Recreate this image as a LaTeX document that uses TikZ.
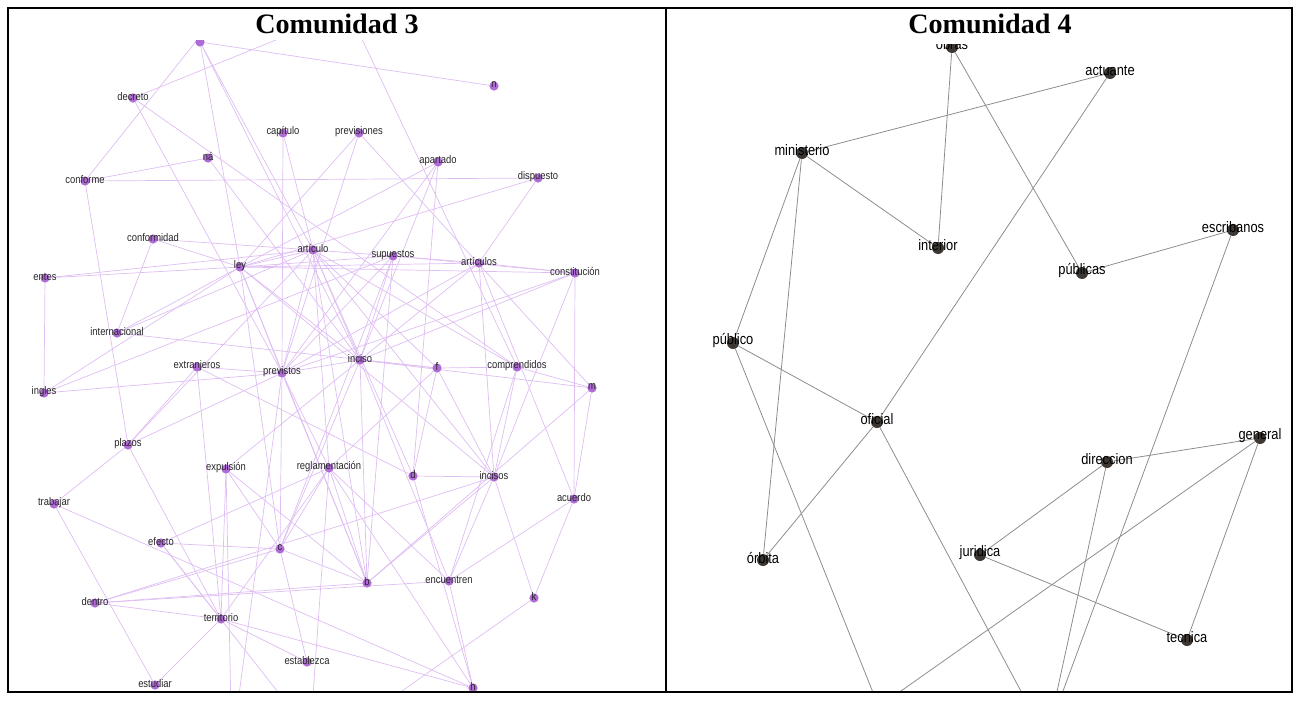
\documentclass[tikz,border=0pt]{standalone}
\usepackage{fontspec}
\setmainfont{Liberation Serif}
\newfontfamily\graphfont[FakeStretch=0.85]{Liberation Sans}
\usetikzlibrary{backgrounds}

\definecolor{lila}{RGB}{176,108,214}
\definecolor{lilaedge}{RGB}{222,190,242}
\definecolor{grisnodo}{RGB}{60,55,50}
\definecolor{grisedge}{RGB}{140,140,140}

\begin{document}
\begin{tikzpicture}[x=0.02cm, y=-0.02cm,
  dotc/.style={circle, fill=lila, inner sep=0pt, minimum size=0.185cm},
  dotd/.style={circle, fill=grisnodo, inner sep=0pt, minimum size=0.24cm},
  labc/.style={font=\graphfont\fontsize{6.3}{7}\selectfont, text=black!85, inner sep=0pt, yshift=0.8pt},
  labd/.style={font=\graphfont\fontsize{8.6}{10}\selectfont, text=black, inner sep=0pt, yshift=1.4pt},
  edgec/.style={draw=lilaedge, line width=0.4pt},
  edged/.style={draw=grisedge, line width=0.45pt},
  title/.style={font=\bfseries\fontsize{16}{18}\selectfont, anchor=base}
]
\useasboundingbox (0,0) rectangle (1300,700);

% Comunidad 3
\begin{scope}
\clip (10,40) rectangle (664,690);
\node[dotc] (top) at (200,42) {};
\node[dotc, label={[labc]center:decreto}] (decreto) at (133,98) {};
\node[dotc, label={[labc]center:n}] (nn) at (494,86) {};
\node[dotc, label={[labc]center:capítulo}] (capitulo) at (283,133) {};
\node[dotc, label={[labc]center:previsiones}] (previsiones) at (359,133) {};
\node[dotc, label={[labc]center:ná}] (na) at (208,158) {};
\node[dotc, label={[labc]center:apartado}] (apartado) at (438,162) {};
\node[dotc, label={[labc]center:conforme}] (conforme) at (85,181) {};
\node[dotc, label={[labc]center:dispuesto}] (dispuesto) at (538,178) {};
\node[dotc, label={[labc]center:conformidad}] (conformidad) at (153,239) {};
\node[dotc, label={[labc]center:artículo}] (articulo) at (313,250) {};
\node[dotc, label={[labc]center:ley}] (ley) at (240,267) {};
\node[dotc, label={[labc]center:entes}] (entes) at (45,278) {};
\node[dotc, label={[labc]center:supuestos}] (supuestos) at (393,256) {};
\node[dotc, label={[labc]center:artículos}] (articulos) at (479,263) {};
\node[dotc, label={[labc]center:constitución}] (constitucion) at (575,273) {};
\node[dotc, label={[labc]center:internacional}] (internacional) at (117,333) {};
\node[dotc, label={[labc]center:extranjeros}] (extranjeros) at (197,367) {};
\node[dotc, label={[labc]center:previstos}] (previstos) at (282,373) {};
\node[dotc, label={[labc]center:inciso}] (inciso) at (360,360) {};
\node[dotc, label={[labc]center:f}] (f) at (437,368) {};
\node[dotc, label={[labc]center:comprendidos}] (comprendidos) at (517,367) {};
\node[dotc, label={[labc]center:m}] (m) at (592,388) {};
\node[dotc, label={[labc]center:ingles}] (ingles) at (44,393) {};
\node[dotc, label={[labc]center:plazos}] (plazos) at (128,445) {};
\node[dotc, label={[labc]center:expulsión}] (expulsion) at (226,469) {};
\node[dotc, label={[labc]center:reglamentación}] (reglamentacion) at (329,468) {};
\node[dotc, label={[labc]center:d}] (d) at (413,476) {};
\node[dotc, label={[labc]center:incisos}] (incisos) at (494,477) {};
\node[dotc, label={[labc]center:acuerdo}] (acuerdo) at (574,499) {};
\node[dotc, label={[labc]center:trabajar}] (trabajar) at (54,504) {};
\node[dotc, label={[labc]center:efecto}] (efecto) at (161,543) {};
\node[dotc, label={[labc]center:c}] (c) at (280,549) {};
\node[dotc, label={[labc]center:b}] (b) at (367,583) {};
\node[dotc, label={[labc]center:encuentren}] (encuentren) at (449,581) {};
\node[dotc, label={[labc]center:k}] (k) at (534,598) {};
\node[dotc, label={[labc]center:dentro}] (dentro) at (95,603) {};
\node[dotc, label={[labc]center:territorio}] (territorio) at (221,619) {};
\node[dotc, label={[labc]center:establezca}] (establezca) at (307,662) {};
\node[dotc, label={[labc]center:estudiar}] (estudiar) at (155,685) {};
\node[dotc, label={[labc]center:h}] (h) at (473,688) {};
% ends leaving the frame
\coordinate (c1) at (325,20);
\coordinate (c2) at (353,20);
\coordinate (c3) at (213,20);
\coordinate (c4) at (375,710);
\coordinate (c5) at (231,710);
\coordinate (c6) at (237,710);
\coordinate (c7) at (292,710);
\coordinate (c8) at (312,710);
\end{scope}
\begin{scope}[on background layer]
\begin{scope}
\clip (10,40) rectangle (664,690);
\foreach \a/\b in {top/nn, top/ley, top/articulo, top/inciso, decreto/previstos,
  decreto/comprendidos, decreto/c1, capitulo/previstos, capitulo/articulo,
  previsiones/ley, previsiones/m, previsiones/previstos, na/conforme, na/inciso,
  conforme/dispuesto, conforme/plazos, conforme/c3, apartado/ley, apartado/inciso,
  apartado/d, apartado/previstos, dispuesto/articulos, dispuesto/ley,
  conformidad/ley, conformidad/articulo, conformidad/internacional,
  entes/ley, entes/articulo, entes/ingles, ingles/ley, ingles/supuestos,
  ingles/previstos, internacional/ley, internacional/f, internacional/articulo,
  extranjeros/previstos, extranjeros/territorio, extranjeros/plazos, extranjeros/d,
  previstos/ley, previstos/articulo, previstos/supuestos, previstos/inciso,
  previstos/constitucion, previstos/plazos, previstos/reglamentacion, previstos/c,
  previstos/b, previstos/articulos, previstos/c6, ley/articulo, ley/supuestos,
  ley/articulos, ley/constitucion, ley/inciso, ley/b, ley/incisos, ley/c,
  articulo/supuestos, articulo/inciso, articulo/f, articulo/incisos,
  articulo/comprendidos, articulo/d, articulo/b, articulo/reglamentacion,
  articulo/plazos, supuestos/articulos, supuestos/inciso, supuestos/c, supuestos/b,
  supuestos/constitucion, articulos/constitucion, articulos/incisos,
  articulos/acuerdo, articulos/inciso, constitucion/acuerdo, constitucion/inciso,
  constitucion/incisos, inciso/f, inciso/m, inciso/b, inciso/c, inciso/encuentren,
  inciso/expulsion, f/comprendidos, f/d, f/incisos, f/reglamentacion,
  comprendidos/m, comprendidos/incisos, comprendidos/encuentren, comprendidos/c2,
  m/b, m/acuerdo, d/incisos, d/h, incisos/encuentren, incisos/k, incisos/b,
  incisos/dentro, acuerdo/encuentren, acuerdo/k, k/c4, encuentren/h,
  encuentren/reglamentacion, encuentren/dentro, b/reglamentacion, b/expulsion,
  b/c, b/dentro, reglamentacion/c, reglamentacion/territorio, reglamentacion/efecto,
  reglamentacion/h, reglamentacion/c8, c/efecto, c/dentro, c/expulsion,
  c/establezca, expulsion/territorio, expulsion/c5, efecto/territorio, efecto/c7,
  plazos/trabajar, plazos/territorio, trabajar/estudiar, trabajar/h,
  dentro/territorio, estudiar/territorio, territorio/h, territorio/establezca}
  \draw[edgec] (\a) -- (\b);
\end{scope}
\end{scope}

% Comunidad 4
\begin{scope}
\clip (668,44) rectangle (1290,690);
\node[dotd, label={[labd]center:obras}] (obras) at (952,47) {};
\node[dotd, label={[labd]center:actuante}] (actuante) at (1110,73) {};
\node[dotd, label={[labd]center:ministerio}] (ministerio) at (802,153) {};
\node[dotd, label={[labd]center:interior}] (interior) at (938,248) {};
\node[dotd, label={[labd]center:escribanos}] (escribanos) at (1233,230) {};
\node[dotd, label={[labd]center:públicas}] (publicas) at (1082,273) {};
\node[dotd, label={[labd]center:público}] (publico) at (733,343) {};
\node[dotd, label={[labd]center:oficial}] (oficial) at (877,422) {};
\node[dotd, label={[labd]center:direccion}] (direccion) at (1107,462) {};
\node[dotd, label={[labd]center:general}] (general) at (1260,438) {};
\node[dotd, label={[labd]center:órbita}] (orbita) at (763,560) {};
\node[dotd, label={[labd]center:juridica}] (juridica) at (980,555) {};
\node[dotd, label={[labd]center:tecnica}] (tecnica) at (1187,640) {};
\coordinate (s1) at (880,710);
\coordinate (s2) at (874,710);
\coordinate (s3) at (1031,710);
\coordinate (s4) at (1053,710);
\coordinate (s5) at (1056,710);
\end{scope}
\begin{scope}[on background layer]
\begin{scope}
\clip (668,44) rectangle (1290,690);
\foreach \a/\b in {obras/interior, obras/publicas, ministerio/actuante,
  ministerio/interior, ministerio/publico, ministerio/orbita, actuante/oficial,
  oficial/orbita, publico/oficial, publico/s1, oficial/s3, escribanos/publicas,
  escribanos/s5, direccion/general, direccion/juridica, direccion/s4,
  general/tecnica, general/s2, juridica/tecnica}
  \draw[edged] (\a) -- (\b);
\end{scope}
\end{scope}

% marco y titulos
\draw[line width=1.3pt] (8,8) rectangle (1292,692);
\draw[line width=1.3pt] (666,8) -- (666,692);
\node[title] (t3) at (337,33) {Comunidad 3};
\node[title] (t4) at (990,33) {Comunidad 4};
\end{tikzpicture}
\end{document}
